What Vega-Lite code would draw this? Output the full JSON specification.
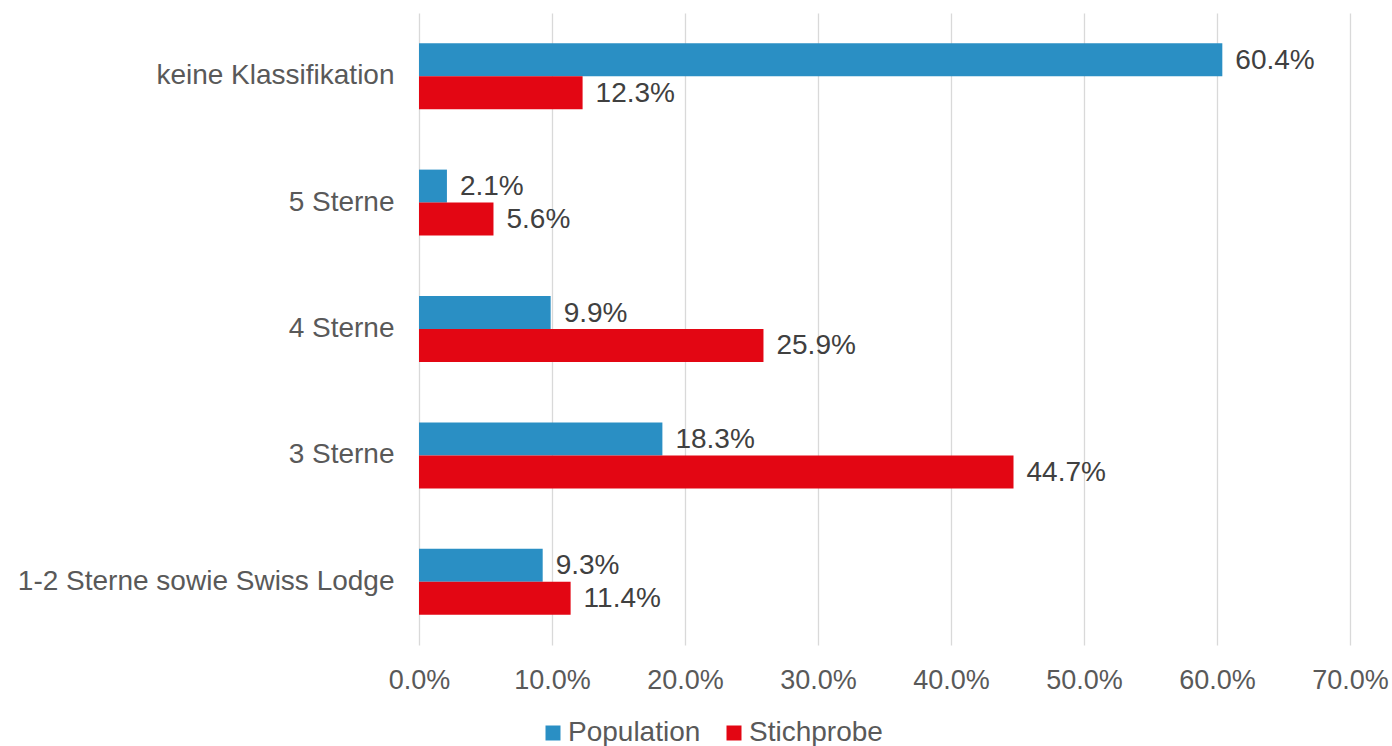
{
  "$schema": "https://vega.github.io/schema/vega-lite/v6.json",
  "width": 931,
  "height": 632,
  "autosize": {"type": "none"},
  "padding": {"left": 419, "top": 13, "right": 42, "bottom": 101},
  "background": "white",
  "config": {"view": {"stroke": null}, "font": "Liberation Sans"},
  "data": {
    "values": [
      {"category": "keine Klassifikation", "series": "Population", "value": 0.604},
      {"category": "keine Klassifikation", "series": "Stichprobe", "value": 0.123},
      {"category": "5 Sterne", "series": "Population", "value": 0.021},
      {"category": "5 Sterne", "series": "Stichprobe", "value": 0.056},
      {"category": "4 Sterne", "series": "Population", "value": 0.099},
      {"category": "4 Sterne", "series": "Stichprobe", "value": 0.259},
      {"category": "3 Sterne", "series": "Population", "value": 0.183},
      {"category": "3 Sterne", "series": "Stichprobe", "value": 0.447},
      {"category": "1-2 Sterne sowie Swiss Lodge", "series": "Population", "value": 0.093},
      {"category": "1-2 Sterne sowie Swiss Lodge", "series": "Stichprobe", "value": 0.114}
    ]
  },
  "encoding": {
    "y": {
      "field": "category",
      "type": "nominal",
      "sort": ["keine Klassifikation", "5 Sterne", "4 Sterne", "3 Sterne", "1-2 Sterne sowie Swiss Lodge"],
      "scale": {"paddingInner": 0.478, "paddingOuter": 0.239},
      "axis": {
        "title": null,
        "domain": false,
        "ticks": false,
        "labelPadding": 25,
        "labelFontSize": 28,
        "labelColor": "#595959",
        "labelLimit": 500
      }
    },
    "yOffset": {
      "field": "series",
      "type": "nominal",
      "sort": ["Population", "Stichprobe"],
      "scale": {"paddingInner": 0, "paddingOuter": 0}
    },
    "x": {
      "field": "value",
      "type": "quantitative",
      "scale": {"domain": [0, 0.7], "nice": false},
      "axis": {
        "title": null,
        "format": ".1%",
        "values": [0, 0.1, 0.2, 0.3, 0.4, 0.5, 0.6, 0.7],
        "domain": false,
        "ticks": false,
        "grid": true,
        "gridColor": "#D9D9D9",
        "gridWidth": 1.3,
        "labelFlush": false,
        "labelOverlap": false,
        "labelBound": false,
        "labelPadding": 22,
        "labelFontSize": 27,
        "labelColor": "#595959"
      }
    }
  },
  "layer": [
    {
      "mark": {"type": "bar"},
      "encoding": {
        "color": {
          "field": "series",
          "type": "nominal",
          "scale": {"domain": ["Population", "Stichprobe"], "range": ["#2A8FC4", "#E30613"]},
          "legend": {
            "title": null,
            "orient": "none",
            "direction": "horizontal",
            "legendX": 120,
            "legendY": 706,
            "symbolType": "square",
            "symbolSize": 225,
            "symbolStrokeWidth": 0,
            "labelFontSize": 28,
            "labelColor": "#595959",
            "labelOffset": 1,
            "columnPadding": 19
          }
        }
      }
    },
    {
      "mark": {"type": "text", "align": "left", "baseline": "middle", "dx": 13, "dy": 1, "fontSize": 28, "color": "#404040"},
      "encoding": {
        "text": {"field": "value", "type": "quantitative", "format": ".1%"}
      }
    }
  ]
}
